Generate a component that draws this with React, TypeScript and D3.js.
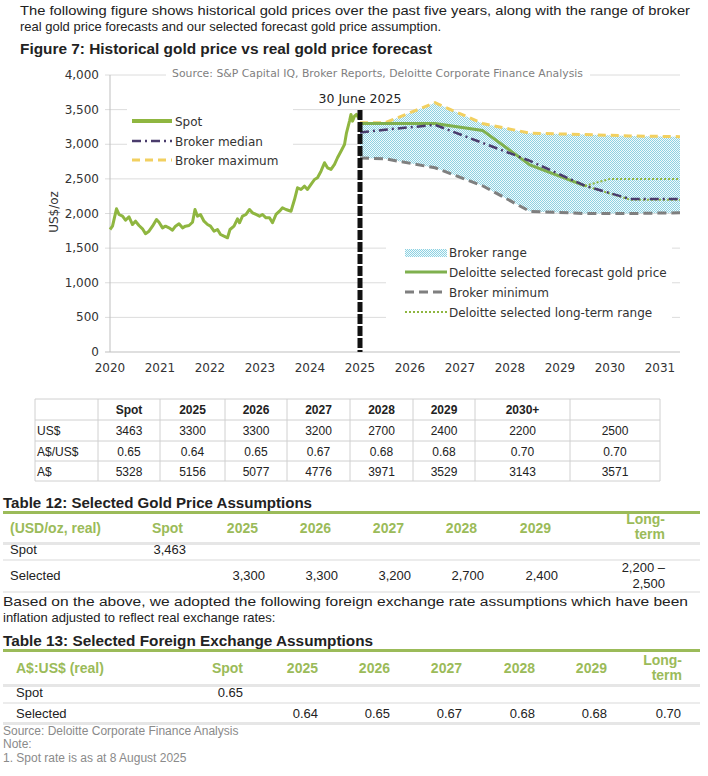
import React from 'react';
import * as d3 from 'd3';

// ---- chart data (axis position in years, US$/oz) ----
const spotYears = [
  2020.0, 2020.05, 2020.13, 2020.18, 2020.25, 2020.31, 2020.38, 2020.45, 2020.51, 2020.58,
  2020.65, 2020.71, 2020.78, 2020.85, 2020.93, 2020.98, 2021.05, 2021.11, 2021.18, 2021.25,
  2021.31, 2021.38, 2021.45, 2021.51, 2021.58, 2021.65, 2021.7, 2021.75, 2021.81, 2021.88,
  2021.95, 2022.01, 2022.08, 2022.15, 2022.21, 2022.28, 2022.35, 2022.4, 2022.48, 2022.55,
  2022.59, 2022.65, 2022.72, 2022.79, 2022.85, 2022.92, 2022.99, 2023.05, 2023.12, 2023.19,
  2023.25, 2023.32, 2023.39, 2023.45, 2023.52, 2023.62, 2023.69, 2023.75, 2023.82, 2023.89,
  2023.95, 2024.02, 2024.09, 2024.15, 2024.22, 2024.29, 2024.35, 2024.42, 2024.49, 2024.55,
  2024.62, 2024.69, 2024.73, 2024.79, 2024.82, 2024.85, 2024.89, 2024.93, 2024.97, 2025.0,
];
const spotPrices = [
  1769, 1817, 2068, 1986, 1961, 1903, 1952, 1841, 1889, 1827,
  1779, 1707, 1744, 1817, 1913, 1874, 1793, 1817, 1793, 1759,
  1817, 1851, 1793, 1817, 1827, 1874, 2058, 1961, 1986, 1889,
  1841, 1817, 1744, 1769, 1697, 1672, 1649, 1769, 1817, 1923,
  1866, 1961, 1986, 2058, 2010, 1986, 1961, 1986, 1938, 1938,
  1866, 1986, 2033, 2082, 2058, 2033, 2202, 2371, 2347, 2395,
  2347, 2419, 2491, 2516, 2611, 2733, 2660, 2636, 2708, 2805,
  2900, 2997, 3166, 3334, 3431, 3334, 3406, 3431, 3383, 3400,
];

const brokerYears = [2025.0, 2025.5, 2026.5, 2027.45, 2028.4, 2029.5, 2030.4, 2031.4];
const brokerMax = [3310, 3310, 3600, 3300, 3160, 3140, 3120, 3110];
const brokerMedian = [3170, 3210, 3280, 3020, 2760, 2400, 2210, 2210];
const brokerMin = [2800, 2790, 2660, 2400, 2030, 2000, 2000, 2010];

const selectedYears = [2025.0, 2026.5, 2027.45, 2028.4, 2029.5];
const selectedPrices = [3300, 3300, 3200, 2700, 2400];

const ltUpperYears = [2029.5, 2030.0, 2031.4];
const ltUpper = [2400, 2500, 2500];
const ltLowerYears = [2029.5, 2030.4, 2031.4];
const ltLower = [2400, 2200, 2200];

const xTickYears = d3.range(2020, 2032);
const yTickValues = d3.range(0, 4001, 500);

// ---- summary table (excel snippet) ----
const summaryHeader = ['Spot', '2025', '2026', '2027', '2028', '2029', '2030+', ''];
const summaryLabels = ['US$', 'A$/US$', 'A$'];
const summaryUsd = ['3463', '3300', '3300', '3200', '2700', '2400', '2200', '2500'];
const summaryFx = ['0.65', '0.64', '0.65', '0.67', '0.68', '0.68', '0.70', '0.70'];
const summaryAud = ['5328', '5156', '5077', '4776', '3971', '3529', '3143', '3571'];

// ---- table 12 ----
const goldHeader = ['Spot', '2025', '2026', '2027', '2028', '2029'];
const goldSpot = '3,463';
const goldSelected = ['3,300', '3,300', '3,200', '2,700', '2,400'];
const goldLongTerm = ['2,200 –', '2,500'];

// ---- table 13 ----
const fxHeader = ['Spot', '2025', '2026', '2027', '2028', '2029'];
const fxSpot = '0.65';
const fxSelected = ['0.64', '0.65', '0.67', '0.68', '0.68', '0.70'];

const GREEN = '#8fb640';
const HEAD_GREEN = '#9bbb59';
const CHART_FONT = 'DejaVu Sans, Verdana, sans-serif';
const TEXT_FONT = 'Liberation Sans, Arial, sans-serif';

export default function App() {
  const x = d3.scaleLinear().domain([2020, 2031.4]).range([110, 680]);
  const y = d3.scaleLinear().domain([0, 4000]).range([352, 75]);

  const pts = (xs: number[], ys: number[]) => xs.map((v, i) => [v, ys[i]] as [number, number]);
  const line = d3
    .line<[number, number]>()
    .x((d) => x(d[0]))
    .y((d) => y(d[1]));
  const rangeArea = d3
    .area<number>()
    .x((i) => x(brokerYears[i]))
    .y0((i) => y(brokerMin[i]))
    .y1((i) => y(brokerMax[i]));

  // summary table layout
  const sCols = [35, 98, 160, 225, 287, 350, 413, 475, 570, 660];
  const sRows = [399, 420, 441, 461, 481];
  const summaryData = [summaryUsd, summaryFx, summaryAud];

  // table 12 / 13 column right edges
  const goldRight = [186, 262, 335, 408, 481, 555];
  const fxRight = [243, 318, 390, 462, 535, 607];

  return (
    <div style={{ position: 'absolute', left: 0, top: 0 }}>
      <svg width={708} height={776} style={{ display: 'block', background: '#fff' }}>
        <defs>
          <pattern id="brokerDots" width={2} height={2} patternUnits="userSpaceOnUse">
            <rect width={2} height={2} fill="#f2fafc" />
            <rect width={1} height={1} fill="#8dd2e2" />
            <rect x={1} y={1} width={1} height={1} fill="#8dd2e2" />
          </pattern>
        </defs>

        {/* intro text */}
        <g fontFamily={TEXT_FONT} fontSize={13} fill="#222">
          <text x={20} y={15} textLength={670} lengthAdjust="spacingAndGlyphs">
            The following figure shows historical gold prices over the past five years, along with the range of broker
          </text>
          <text x={20} y={31} textLength={421} lengthAdjust="spacingAndGlyphs">
            real gold price forecasts and our selected forecast gold price assumption.
          </text>
          <text x={20} y={54} fontWeight="bold" fontSize={14} textLength={412} lengthAdjust="spacingAndGlyphs">
            Figure 7: Historical gold price vs real gold price forecast
          </text>
        </g>

        {/* ---- chart ---- */}
        <g fontFamily={CHART_FONT} fontSize={12} fill="#333">
          {yTickValues.map((t) => (
            <g key={t}>
              <line
                x1={105}
                x2={680}
                y1={y(t)}
                y2={y(t)}
                stroke={t === 0 ? '#bfbfbf' : '#dcdcdc'}
                strokeWidth={1}
              />
              <text x={99} y={y(t) + 4} textAnchor="end">
                {d3.format(',')(t)}
              </text>
            </g>
          ))}
          <line x1={110} x2={110} y1={y(4000)} y2={y(0)} stroke="#bfbfbf" />
          {xTickYears.map((yr) => (
            <text key={yr} x={x(yr)} y={372} textAnchor="middle">
              {yr}
            </text>
          ))}
          <text transform={`translate(58,212) rotate(-90)`} textAnchor="middle">
            US$/oz
          </text>

          {/* source note over the top gridline */}
          <rect x={166} y={64} width={424} height={16} fill="#fff" />
          <text x={172} y={77} fontSize={11} fill="#7f7f7f" textLength={411} lengthAdjust="spacingAndGlyphs">
            Source: S&amp;P Capital IQ, Broker Reports, Deloitte Corporate Finance Analysis
          </text>

          {/* legend backgrounds */}
          <rect x={127} y={104} width={166} height={66} fill="#fff" />
          <rect x={386} y={238} width={286} height={84} fill="#fff" />

          {/* broker range */}
          <path d={rangeArea(d3.range(brokerYears.length)) ?? ''} fill="url(#brokerDots)" />

          {/* historical spot */}
          <path
            d={line(pts(spotYears, spotPrices)) ?? ''}
            fill="none"
            stroke={GREEN}
            strokeWidth={3}
            strokeLinejoin="round"
          />

          <path
            d={line(pts(brokerYears, brokerMax)) ?? ''}
            fill="none"
            stroke="#f2d060"
            strokeWidth={3}
            strokeDasharray="8,5"
          />
          <path
            d={line(pts(brokerYears, brokerMin)) ?? ''}
            fill="none"
            stroke="#7f7f7f"
            strokeWidth={3}
            strokeDasharray="9,5"
          />
          <path
            d={line(pts(ltUpperYears, ltUpper)) ?? ''}
            fill="none"
            stroke={GREEN}
            strokeWidth={2}
            strokeDasharray="2,2"
          />
          <path
            d={line(pts(ltLowerYears, ltLower)) ?? ''}
            fill="none"
            stroke={GREEN}
            strokeWidth={2}
            strokeDasharray="2,2"
          />
          <path
            d={line(pts(selectedYears, selectedPrices)) ?? ''}
            fill="none"
            stroke="#7fb04e"
            strokeWidth={3}
          />
          <path
            d={line(pts(brokerYears, brokerMedian)) ?? ''}
            fill="none"
            stroke="#4a3c6c"
            strokeWidth={2.5}
            strokeDasharray="9,4,2,4"
          />

          {/* 30 June 2025 marker */}
          <line
            x1={x(2025)}
            x2={x(2025)}
            y1={110}
            y2={y(0)}
            stroke="#111"
            strokeWidth={5}
            strokeDasharray="10,2"
          />
          <text x={x(2025)} y={103} textAnchor="middle" fontSize={12.5} fill="#222">
            30 June 2025
          </text>

          {/* upper legend */}
          <line x1={132} x2={172} y1={121} y2={121} stroke={GREEN} strokeWidth={4} />
          <text x={175} y={126}>Spot</text>
          <line
            x1={132}
            x2={172}
            y1={141}
            y2={141}
            stroke="#4a3c6c"
            strokeWidth={2.5}
            strokeDasharray="9,4,2,4"
          />
          <text x={175} y={146}>Broker median</text>
          <line
            x1={132}
            x2={172}
            y1={160}
            y2={160}
            stroke="#f2d060"
            strokeWidth={3}
            strokeDasharray="8,5"
          />
          <text x={175} y={165}>Broker maximum</text>

          {/* lower legend */}
          <rect x={405} y={249} width={42} height={8} fill="url(#brokerDots)" />
          <text x={449} y={257}>Broker range</text>
          <line x1={405} x2={447} y1={272} y2={272} stroke="#7fb04e" strokeWidth={3} />
          <text x={449} y={277}>Deloitte selected forecast gold price</text>
          <line
            x1={405}
            x2={447}
            y1={292}
            y2={292}
            stroke="#7f7f7f"
            strokeWidth={3}
            strokeDasharray="9,5"
          />
          <text x={449} y={297}>Broker minimum</text>
          <line
            x1={405}
            x2={447}
            y1={312}
            y2={312}
            stroke={GREEN}
            strokeWidth={2}
            strokeDasharray="2,2"
          />
          <text x={449} y={317}>Deloitte selected long-term range</text>
        </g>

        {/* ---- summary table ---- */}
        <g fontFamily={TEXT_FONT} fontSize={12} fill="#222">
          {sRows.map((ry) => (
            <line key={ry} x1={sCols[0]} x2={sCols[sCols.length - 1]} y1={ry} y2={ry} stroke="#d0d0d0" />
          ))}
          {sCols.map((cx) => (
            <line key={cx} x1={cx} x2={cx} y1={sRows[0]} y2={sRows[sRows.length - 1]} stroke="#d0d0d0" />
          ))}
          {summaryHeader.map((h, i) => (
            <text
              key={'h' + i}
              x={(sCols[i + 1] + sCols[i + 2]) / 2}
              y={sRows[0] + 15}
              textAnchor="middle"
              fontWeight="bold"
            >
              {h}
            </text>
          ))}
          {summaryLabels.map((lab, r) => (
            <g key={lab}>
              <text x={sCols[0] + 2} y={sRows[r + 1] + 15}>
                {lab}
              </text>
              {summaryData[r].map((v, i) => (
                <text key={i} x={(sCols[i + 1] + sCols[i + 2]) / 2} y={sRows[r + 1] + 15} textAnchor="middle">
                  {v}
                </text>
              ))}
            </g>
          ))}
        </g>

        {/* ---- table 12 ---- */}
        <g fontFamily={TEXT_FONT} fontSize={13} fill="#222">
          <text x={3} y={508} fontWeight="bold" fontSize={14} textLength={309} lengthAdjust="spacingAndGlyphs">
            Table 12: Selected Gold Price Assumptions
          </text>
          <rect x={3} y={511} width={697} height={3} fill={HEAD_GREEN} />
          <g fill={HEAD_GREEN} fontWeight="bold" fontSize={14}>
            <text x={10} y={533}>(USD/oz, real)</text>
            {goldHeader.map((h, i) => (
              <text key={h} x={goldRight[i] - (i === 0 ? 3 : 4)} y={533} textAnchor="end">
                {h}
              </text>
            ))}
            <text x={665} y={524} textAnchor="end">
              Long-
            </text>
            <text x={665} y={539} textAnchor="end">
              term
            </text>
          </g>
          <rect x={3} y={542} width={697} height={3} fill="#e6e6e6" />
          <text x={10} y={554}>Spot</text>
          <text x={goldRight[0]} y={554} textAnchor="end">
            {goldSpot}
          </text>
          <rect x={3} y={559} width={697} height={2} fill="#ececec" />
          <text x={10} y={580}>Selected</text>
          {goldSelected.map((v, i) => (
            <text key={i} x={goldRight[i + 1] + 3} y={580} textAnchor="end">
              {v}
            </text>
          ))}
          <text x={665} y={572} textAnchor="end">
            {goldLongTerm[0]}
          </text>
          <text x={665} y={588} textAnchor="end">
            {goldLongTerm[1]}
          </text>
          <rect x={3} y={591} width={697} height={2} fill="#ececec" />

          <text x={3} y={606} textLength={685} lengthAdjust="spacingAndGlyphs">
            Based on the above, we adopted the following foreign exchange rate assumptions which have been
          </text>
          <text x={3} y={622}>inflation adjusted to reflect real exchange rates:</text>
        </g>

        {/* ---- table 13 ---- */}
        <g fontFamily={TEXT_FONT} fontSize={13} fill="#222">
          <text x={3} y={646} fontWeight="bold" fontSize={14} textLength={370} lengthAdjust="spacingAndGlyphs">
            Table 13: Selected Foreign Exchange Assumptions
          </text>
          <rect x={3} y={649} width={697} height={3} fill={HEAD_GREEN} />
          <g fill={HEAD_GREEN} fontWeight="bold" fontSize={14}>
            <text x={16} y={673}>A$:US$ (real)</text>
            {fxHeader.map((h, i) => (
              <text key={h} x={fxRight[i]} y={673} textAnchor="end">
                {h}
              </text>
            ))}
            <text x={682} y={665} textAnchor="end">
              Long-
            </text>
            <text x={682} y={680} textAnchor="end">
              term
            </text>
          </g>
          <rect x={3} y={684} width={697} height={3} fill="#e6e6e6" />
          <text x={16} y={697}>Spot</text>
          <text x={fxRight[0]} y={697} textAnchor="end">
            {fxSpot}
          </text>
          <rect x={3} y={702} width={697} height={2} fill="#ececec" />
          <text x={16} y={718}>Selected</text>
          {fxSelected.map((v, i) => (
            <text key={i} x={i < 5 ? fxRight[i + 1] : 681} y={718} textAnchor="end">
              {v}
            </text>
          ))}
          <rect x={3} y={722} width={697} height={3} fill="#e6e6e6" />
          <g fill="#8a8a8a" fontSize={12}>
            <text x={3} y={735}>Source: Deloitte Corporate Finance Analysis</text>
            <text x={3} y={748}>Note:</text>
            <text x={3} y={762}>1. Spot rate is as at 8 August 2025</text>
          </g>
        </g>
      </svg>
    </div>
  );
}
